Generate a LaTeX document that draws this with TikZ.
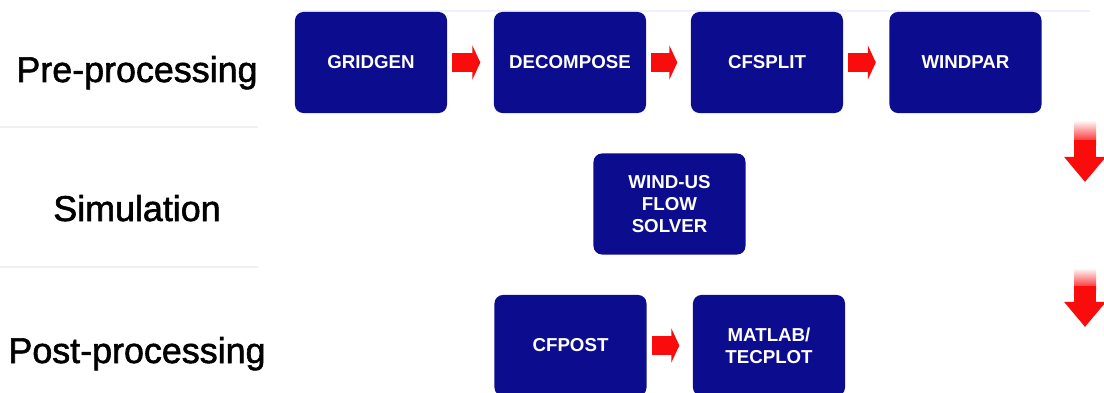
\documentclass[tikz,border=0pt]{standalone}
\usepackage{fontspec}
\setmainfont{Liberation Sans}
\newfontfamily\phasefont[FakeBold=1.6]{Liberation Sans}
\usetikzlibrary{arrows.meta}

\definecolor{boxblue}{RGB}{12,12,142}
\definecolor{flowred}{RGB}{250,12,12}

\tikzset{
  stage/.style={fill=boxblue, rounded corners=6pt, minimum width=3.8cm,
    minimum height=2.525cm, inner sep=0pt, align=center, text=white,
    font=\fontsize{13.3}{15.5}\selectfont\bfseries},
  phase/.style={anchor=base, font=\phasefont\fontsize{25.5}{30}\selectfont},
  flow/.style={draw=flowred, line width=14.2pt,
    -{Triangle[length=5.7pt, width=24.2pt]},
    shorten <=3.5pt, shorten >=9.5pt},
  drop/.style={draw=flowred, line width=15.6pt,
    -{Triangle[length=17.8pt, width=28.5pt]}},
  sep/.style={draw=gray!12, line width=1.2pt}
}

\begin{document}
\begin{tikzpicture}[x=0.025cm, y=-0.025cm]
\useasboundingbox (0,0) rectangle (1104,393);

% phases
\node[phase] (pre) at (137,82) {Pre-processing};
\node[phase] (sim) at (137,221) {Simulation};
\node[phase] (post) at (137,363) {Post-processing};

\draw[sep] (0,127) -- (258,127);
\draw[sep] (0,267) -- (258,267);
\draw[draw=blue!6, line width=0.8pt] (295,11) -- (1090,11);

% tools
\node[stage] (gridgen) at (371,62.5) {GRIDGEN};
\node[stage] (decompose) at (570,62.5) {DECOMPOSE};
\node[stage] (cfsplit) at (767,62.5) {CFSPLIT};
\node[stage] (windpar) at (965.5,62.5) {WINDPAR};
\node[stage] (solver) at (669.5,204) {WIND-US\\FLOW\\SOLVER};
\node[stage] (cfpost) at (570.5,345.5) {CFPOST};
\node[stage] (plot) at (769,345.5) {MATLAB/\\TECPLOT};

\draw[flow] (gridgen) -- (decompose);
\draw[flow] (decompose) -- (cfsplit);
\draw[flow] (cfsplit) -- (windpar);
\draw[flow] (cfpost) -- (plot);

% stage to stage
\coordinate (down1) at (1085,140);
\coordinate (tip1) at (1085,182);
\coordinate (down2) at (1085,286);
\coordinate (tip2) at (1085,327);
\shade[top color=white, bottom color=flowred] (1074,120) rectangle (1096,145);
\shade[top color=white, bottom color=flowred] (1074,268) rectangle (1096,291);
\draw[drop] (down1) -- (tip1);
\draw[drop] (down2) -- (tip2);

\end{tikzpicture}
\end{document}
